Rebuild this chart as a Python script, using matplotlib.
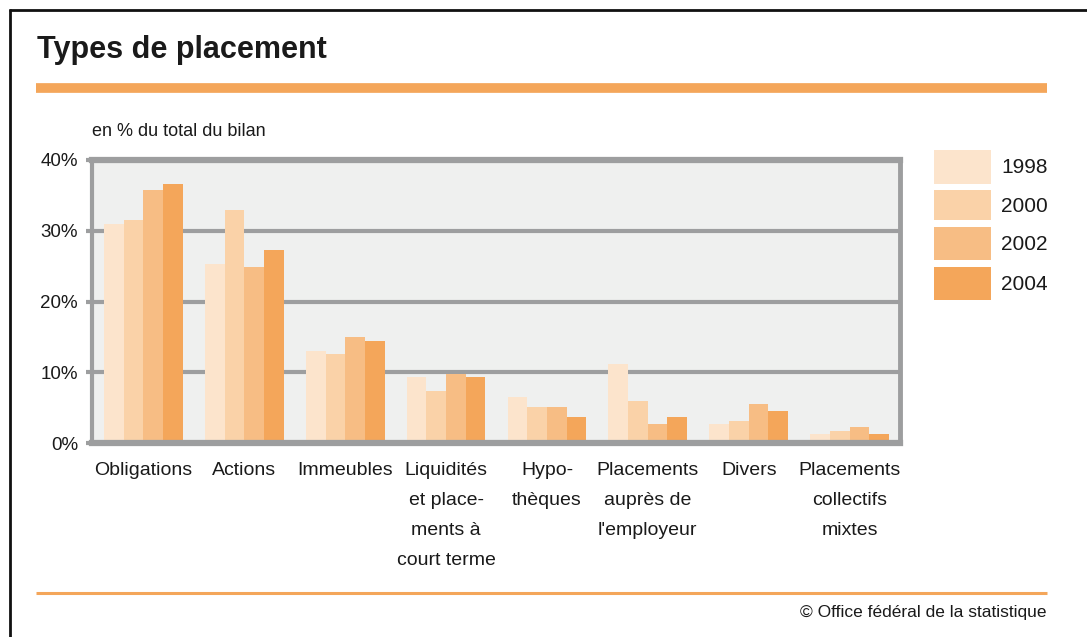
import numpy as np
import matplotlib
matplotlib.use("Agg")
import matplotlib.pyplot as plt
from matplotlib.lines import Line2D
from matplotlib.patches import Rectangle

plt.rcParams['font.family'] = ['Liberation Sans', 'DejaVu Sans']

# Data (in % of balance sheet total)
categories = ["Obligations", "Actions", "Immeubles",
              "Liquidités\net place-\nments à\ncourt terme",
              "Hypo-\nthèques", "Placements\nauprès de\nl'employeur",
              "Divers", "Placements\ncollectifs\nmixtes"]
years = ["1998", "2000", "2002", "2004"]
v1998 = [31.0, 25.3, 13.0, 9.3, 6.5, 11.2, 2.7, 1.3]
v2000 = [31.5, 33.0, 12.6, 7.4, 5.1, 6.0, 3.1, 1.7]
v2002 = [35.8, 24.9, 15.0, 9.8, 5.1, 2.7, 5.5, 2.3]
v2004 = [36.6, 27.3, 14.4, 9.3, 3.7, 3.7, 4.5, 1.3]
series = [v1998, v2000, v2002, v2004]
colors = ["#fce4cc", "#fad2a8", "#f7bd84", "#f4a65a"]

W, H = 1087, 637
fig = plt.figure(figsize=(W / 100, H / 100), dpi=100)


def fx(px):
    return px / W


def fy(py):
    return 1 - py / H


ax = fig.add_axes([fx(92), fy(443), fx(900) - fx(92), fy(160) - fy(443)])
ax.set_facecolor("#eff0ef")

x = np.arange(len(categories))
bw = 0.195
for i, (vals, c) in enumerate(zip(series, colors)):
    ax.bar(x + (i - 1.5) * bw, vals, width=bw, color=c, linewidth=0, zorder=2)

grey = "#9d9e9f"
txt = "#1a1a1a"
ax.set_ylim(0, 40)
ax.set_xlim(-0.51, 7.5)
ax.set_yticks([0, 10, 20, 30, 40])
ax.set_yticklabels(["0%", "10%", "20%", "30%", "40%"])
ax.yaxis.grid(True, color=grey, linewidth=3, zorder=1)
ax.set_axisbelow(True)
ax.tick_params(axis="y", length=4, width=3, color=grey, labelsize=13.5, pad=6,
               labelcolor=txt)
ax.set_xticks(x)
ax.set_xticklabels(categories, fontsize=14, va="top", linespacing=2.0, color=txt)
ax.tick_params(axis="x", length=0, pad=14)
for side, lw in [("top", 4.5), ("bottom", 4.5), ("left", 3), ("right", 3.5)]:
    ax.spines[side].set_color(grey)
    ax.spines[side].set_linewidth(lw)

# title and decorations
fig.text(fx(37), fy(50), "Types de placement", fontsize=22, fontweight="bold",
         va="center", ha="left", color=txt)
fig.text(fx(92), fy(131), "en % du total du bilan", fontsize=13, va="center", ha="left",
         color=txt)
fig.add_artist(Line2D([fx(36), fx(1047)], [fy(88), fy(88)], color="#f4a65a",
                      linewidth=7, solid_capstyle="butt"))
fig.add_artist(Line2D([fx(36), fx(1047)], [fy(592.5), fy(592.5)], color="#f4a65a",
                      linewidth=2.2, solid_capstyle="butt"))
fig.text(fx(1046), fy(612), "© Office fédéral de la statistique", fontsize=12.5,
         va="center", ha="right", color=txt)

# outer frame (top and left edges only visible)
fig.add_artist(Line2D([fx(9), fx(1087)], [fy(9.5), fy(9.5)], color="#111111",
                      linewidth=2, solid_capstyle="butt"))
fig.add_artist(Line2D([fx(9.5), fx(9.5)], [fy(9), fy(637)], color="#111111",
                      linewidth=2, solid_capstyle="butt"))

# legend
box_tops = [150, 190, 227, 267]
box_h = [34, 30, 33, 33]
for yr, c, top, h in zip(years, colors, box_tops, box_h):
    fig.add_artist(Rectangle((fx(934), fy(top + h)), fx(991) - fx(934), fy(top) - fy(top + h),
                             transform=fig.transFigure, facecolor=c, edgecolor="none"))
    fig.text(fx(1001), fy(top + h / 2 + 1), yr, fontsize=15, va="center", ha="left",
             color=txt)

fig.savefig("out.png", dpi=100)
